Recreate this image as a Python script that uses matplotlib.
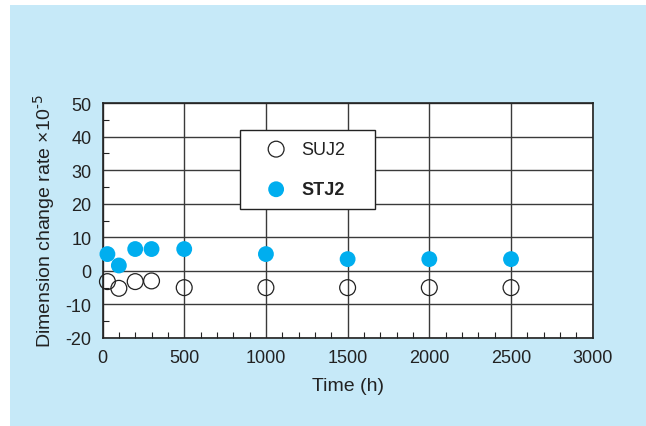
import matplotlib.pyplot as plt
from matplotlib.patches import Rectangle
from matplotlib.ticker import MultipleLocator

plt.rcParams['font.family'] = ['Liberation Sans', 'DejaVu Sans']
plt.rcParams['axes.unicode_minus'] = False

hours_suj2 = [30, 100, 200, 300, 500, 1000, 1500, 2000, 2500]
suj2 = [-3.2, -5.2, -3.2, -3.0, -5.0, -5.0, -5.0, -5.0, -5.0]
hours_stj2 = [30, 100, 200, 300, 500, 1000, 1500, 2000, 2500]
stj2 = [5.0, 1.6, 6.5, 6.5, 6.5, 5.0, 3.5, 3.5, 3.5]

fig = plt.figure(figsize=(6.46, 4.27), dpi=100)
fig.patch.set_facecolor('white')
# light blue panel behind everything
fig.patches.append(Rectangle((10 / 646, 0), 1, 1 - 6 / 427, transform=fig.transFigure,
                             facecolor='#c6e9f8', edgecolor='none', zorder=-10))

ax = fig.add_axes([0.1587, 0.2061, 0.7588, 0.5503])
ax.set_facecolor('white')

ax.scatter(hours_suj2, suj2, s=130, facecolors='none', edgecolors='#222222',
           linewidths=0.9, label='SUJ2', zorder=3, clip_on=False)
ax.scatter(hours_stj2, stj2, s=130, facecolors='#00aeef', edgecolors='none',
           label='STJ2', zorder=3, clip_on=False)

ax.set_xlim(0, 3000)
ax.set_ylim(-20, 50)
ax.xaxis.set_major_locator(MultipleLocator(500))
ax.xaxis.set_minor_locator(MultipleLocator(100))
ax.yaxis.set_major_locator(MultipleLocator(10))
ax.yaxis.set_minor_locator(MultipleLocator(5))
ax.grid(True, which='major', color='#3a3a3a', linewidth=1.0)
ax.set_axisbelow(True)
ax.tick_params(which='both', direction='in', color='#222222', labelsize=13,
               labelcolor='#222222')
ax.tick_params(which='major', length=0, pad=8)
ax.tick_params(which='minor', length=4, width=0.8)
for sp in ax.spines.values():
    sp.set_color('#222222')
    sp.set_linewidth(1.2)

ax.set_xlabel('Time (h)', fontsize=14, color='#222222', labelpad=8)
ax.set_ylabel('Dimension change rate \u00d710$^{\\text{-5}}$', fontsize=14,
              color='#222222', labelpad=6)

leg = ax.legend(loc='upper left', bbox_to_anchor=(0.2805, 0.549, 0.2754, 0.336),
                mode='expand', frameon=True, fancybox=False, edgecolor='#222222',
                fontsize=13, borderpad=0.6, labelspacing=1.28, handlelength=2.8,
                handletextpad=0.0, borderaxespad=0, framealpha=1)
leg.get_frame().set_linewidth(1.0)
leg.get_texts()[1].set_fontweight('bold')
for t in leg.get_texts():
    t.set_color('#222222')

fig.savefig('out.png', dpi=100)
